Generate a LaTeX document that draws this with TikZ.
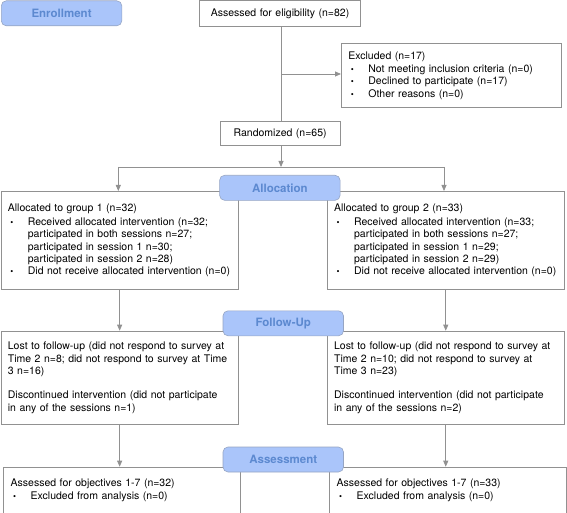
\documentclass[tikz,border=0pt]{standalone}
\usepackage{fontspec}
\setmainfont{TeX Gyre Heros}
\usetikzlibrary{arrows.meta}
\definecolor{phasefill}{RGB}{170,197,250}
\definecolor{phasetext}{RGB}{92,137,208}
\definecolor{phaseline}{RGB}{150,165,195}
\definecolor{boxline}{RGB}{145,145,145}
\newcommand{\bul}{\makebox[20pt][l]{\hspace{2.5pt}\fontsize{8.5}{8.5}\selectfont\textbullet}}
\newcommand{\ind}{\hspace*{20pt}}

\begin{document}
\begin{tikzpicture}[x=1pt,y=-1pt,
  font=\fontsize{10.5}{12.3}\selectfont,
  box/.style={draw=boxline,line width=0.8pt,anchor=north west,inner xsep=7pt,inner ysep=0pt,align=left},
  phase/.style={draw=phaseline,line width=0.6pt,fill=phasefill,rounded corners=5pt,anchor=north west,
    inner sep=0pt,minimum width=120.5pt,minimum height=25pt,text=phasetext,
    font=\fontsize{11.5}{13}\selectfont\bfseries},
  arr/.style={draw=boxline,line width=0.8pt,-{Triangle[length=6pt,width=5pt]}}]
  \useasboundingbox (0,0) rectangle (567,513);

  % enrollment
  \node[box,align=center,text width=146.7pt,minimum height=25.2pt] (elig) at (199.3,0.5)
    {Assessed for eligibility (n=82)};
  \node[box,text width=206pt,minimum height=64pt] (excl) at (341,43)
    {Excluded (n=17)\\[1pt]
     \bul Not meeting inclusion criteria (n=0)\\
     \bul Declined to participate (n=17)\\
     \bul Other reasons (n=0)};
  \node[box,align=center,text width=106.5pt,minimum height=24.8pt] (rand) at (219.5,120.7)
    {Randomized (n=65)};

  % allocation
  \node[box,text width=223.5pt,minimum height=98pt] (grpA) at (0.5,191)
    {Allocated to group 1 (n=32)\\[2pt]
     \bul Received allocated intervention (n=32;\\
     \ind participated in both sessions n=27;\\
     \ind participated in session 1 n=30;\\
     \ind participated in session 2 n=28)\\
     \bul Did not receive allocated intervention (n=0)};
  \node[box,text width=223.3pt,minimum height=98pt] (grpB) at (326.7,191)
    {Allocated to group 2 (n=33)\\[2pt]
     \bul Received allocated intervention (n=33;\\
     \ind participated in both sessions n=27;\\
     \ind participated in session 1 n=29;\\
     \ind participated in session 2 n=29)\\
     \bul Did not receive allocated intervention (n=0)};

  % follow-up
  \node[box,text width=223.5pt,minimum height=93.3pt] (fupA) at (0.5,330.7)
    {Lost to follow-up (did not respond to survey at\\
     Time 2 n=8; did not respond to survey at Time\\
     3 n=16)\\[12.3pt]
     Discontinued intervention (did not participate\\
     in any of the sessions n=1)};
  \node[box,text width=223.3pt,minimum height=93.3pt] (fupB) at (326.7,330.7)
    {Lost to follow-up (did not respond to survey at\\
     Time 2 n=10; did not respond to survey at\\
     Time 3 n=23)\\[12.3pt]
     Discontinued intervention (did not participate\\
     in any of the sessions n=2)};

  % assessment
  \node[box,text width=222.7pt,minimum height=45.8pt] (asmA) at (3.3,466.7)
    {Assessed for objectives 1-7 (n=32)\\[1pt]
     \bul Excluded from analysis (n=0)};
  \node[box,text width=222.7pt,minimum height=45.8pt] (asmB) at (329.3,466.7)
    {Assessed for objectives 1-7 (n=33)\\[1pt]
     \bul Excluded from analysis (n=0)};

  % connectors
  \coordinate (exclsplit) at (281,74);
  \coordinate (grpsplit) at (281,167);
  \coordinate (splitA) at (118.3,167);
  \coordinate (splitB) at (444,167);
  \draw[draw=boxline,line width=0.8pt] (elig.south -| exclsplit) -- (rand.north -| exclsplit);
  \draw[arr] (exclsplit) -- (exclsplit -| excl.west);
  \draw[arr] (rand.south -| grpsplit) -- (grpsplit);
  \draw[draw=boxline,line width=0.8pt] (splitA) -- (splitB);
  \draw[arr] (splitA) -- (splitA |- grpA.north);
  \draw[arr] (splitB) -- (splitB |- grpB.north);
  \draw[arr] (grpA) -- (fupA);
  \draw[arr] (grpB) -- (fupB);
  \draw[arr] (fupA) -- (fupA.south |- asmA.north);
  \draw[arr] (fupB) -- (fupB.south |- asmB.north);

  % phase labels
  \node[phase] (enrol) at (1,0.5) {Enrollment};
  \node[phase] (alloc) at (219.3,175) {Allocation};
  \node[phase] (fup) at (222.7,310.5) {Follow-Up};
  \node[phase] (assess) at (222.7,446.7) {Assessment};
\end{tikzpicture}
\end{document}
